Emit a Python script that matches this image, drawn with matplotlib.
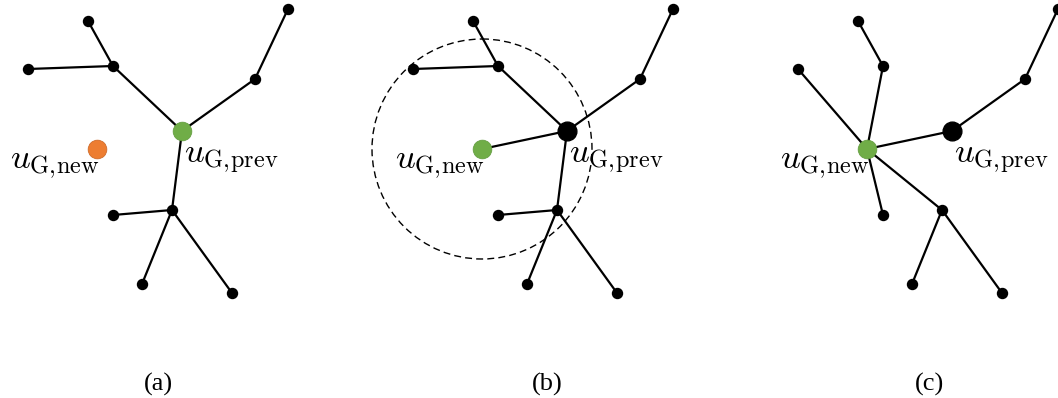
import numpy as np
import matplotlib.pyplot as plt
from matplotlib.patches import Circle

plt.rcParams['mathtext.fontset'] = 'cm'

# Node positions of the tree in panel (a), in pixels (x right, y down)
node_names = ['root', 'b1', 'l1', 'l2', 'b2', 'l3', 'b3', 'l4', 'l5', 'l6', 'new']
node_x = [182, 113, 88, 28, 255, 288, 172, 113, 142, 232, 97]
node_y = [131, 66, 21, 69, 79, 9, 210, 215, 284, 293, 149]

# horizontal shift of each panel
panel_shift = [0, 385, 770]
panel_labels = ['(a)', '(b)', '(c)']
panel_label_x = [158, 547, 930]

edges_a = [('root', 'b1'), ('b1', 'l1'), ('b1', 'l2'), ('root', 'b2'), ('b2', 'l3'),
           ('root', 'b3'), ('b3', 'l4'), ('b3', 'l5'), ('b3', 'l6')]
edges_b = edges_a + [('new', 'root')]
edges_c = [('new', 'l2'), ('new', 'b1'), ('b1', 'l1'), ('new', 'root'), ('root', 'b2'),
           ('b2', 'l3'), ('new', 'l4'), ('new', 'b3'), ('b3', 'l5'), ('b3', 'l6')]
panel_edges = [edges_a, edges_b, edges_c]

search_radius = 110

GREEN = '#70ad47'
ORANGE = '#ed7d31'

pos = {n: (x, y) for n, x, y in zip(node_names, node_x, node_y)}

fig = plt.figure(figsize=(10.58, 3.98), dpi=100)
ax = fig.add_axes([0, 0, 1, 1])
ax.set_xlim(0, 1058)
ax.set_ylim(398, 0)
ax.axis('off')

for k, (dx, edges) in enumerate(zip(panel_shift, panel_edges)):
    P = {n: (x + dx, y) for n, (x, y) in pos.items()}
    for a, b in edges:
        ax.plot([P[a][0], P[b][0]], [P[a][1], P[b][1]], color='black', lw=1.6,
                zorder=2, solid_capstyle='round')
    # small black nodes
    for n in node_names:
        if n in ('root', 'new'):
            continue
        ax.plot(*P[n], 'o', color='black', ms=7.2, zorder=3)
    if k == 0:
        ax.plot(*P['root'], 'o', color=GREEN, mec='#5f9a3c', mew=0.5, ms=13.5, zorder=4)
        ax.plot(*P['new'], 'o', color=ORANGE, mec='#c96422', mew=0.5, ms=13.5, zorder=4)
    else:
        ax.plot(*P['root'], 'o', color='black', ms=13.5, zorder=4)
        ax.plot(*P['new'], 'o', color=GREEN, mec='#5f9a3c', mew=0.5, ms=13.5, zorder=4)
    if k == 1:
        ax.add_patch(Circle(P['new'], search_radius, fill=False, ec='black', lw=1.0,
                            ls=(0, (5, 3)), zorder=1))
    ax.text(P['root'][0] + 2, P['root'][1] + 32, r'$u_{\mathrm{G,\!prev}}$',
            fontsize=25, ha='left', va='baseline', zorder=5)
    ax.text(P['new'][0] + 3, P['new'][1] + 19, r'$u_{\mathrm{G,\!new}}$',
            fontsize=25, ha='right', va='baseline', zorder=5)
    ax.text(panel_label_x[k], 384, panel_labels[k], fontsize=19, family='Liberation Serif',
            ha='center', va='center')

fig.savefig('out.png', dpi=100)
